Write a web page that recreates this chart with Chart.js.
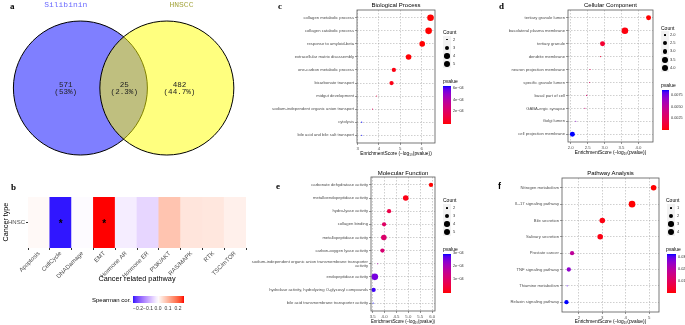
<!DOCTYPE html>
<html><head><meta charset="utf-8">
<script src="https://cdn.jsdelivr.net/npm/chart.js@4.4.1/dist/chart.umd.min.js"></script>
<style>
html,body{margin:0;padding:0;background:#fff;}
body{width:685px;height:325px;position:relative;overflow:hidden;font-family:Arial,"Liberation Sans",sans-serif;}
canvas{position:absolute;}
.t{position:absolute;white-space:nowrap;line-height:1;}
.k{position:absolute;}
</style></head><body>
<script>
// ================= DATA =================
// a: Venn
const vennSetNames = ['Silibinin', 'HNSCC'];
const vennRegionCounts = [571, 25, 482];          // Silibinin only, overlap, HNSCC only
const vennRegionPercents = ['53%', '2.3%', '44.7%'];

// b: heatmap (Spearman correlation with cancer related pathways)
const cancerTypes = ['HNSC'];
const pathways = ['Apoptosis','CellCycle','DNADamage','EMT','Hormone AR','Hormone ER','PI3K/AKT','RAS/MAPK','RTK','TSC/mTOR'];
const spearmanCor = [0.008, -0.25, -0.004, 0.26, -0.02, -0.045, 0.08, 0.035, 0.033, 0.02];
const spearmanSig = ['', '*', '', '*', '', '', '', '', '', ''];
const spearmanTicks = [-0.2, -0.1, 0.0, 0.1, 0.2];
const spearmanTickLabels = ['\u22120.2', '\u22120.1', '0.0', '0.1', '0.2'];

// c: Biological Process
const bpTerms = ['collagen metabolic process','collagen catabolic process','response to amyloid-beta','extracellular matrix disassembly','one-carbon metabolic process','bicarbonate transport','midgut development','sodium-independent organic anion transport','cytolysis','bile acid and bile salt transport'];
const bpScore = [6.42, 6.33, 6.03, 5.39, 4.70, 4.59, 3.89, 3.70, 3.19, 3.19];
const bpCount = [5, 5, 4, 4, 3, 3, 2, 2, 2, 2];
const bpPvalue = [3.8e-7, 4.7e-7, 9.3e-7, 4.1e-6, 2.0e-5, 2.6e-5, 1.3e-4, 2.0e-4, 6.5e-4, 6.5e-4];
const bpScoreTicks = [3, 4, 5, 6];
const bpScoreTickLabels = ['3', '4', '5', '6'];
const bpCountTicks = [2, 3, 4, 5];
const bpCountTickLabels = ['2', '3', '4', '5'];
const bpPTicks = [2e-4, 4e-4, 6e-4];
const bpPTickLabels = ['2e\u221204', '4e\u221204', '6e\u221204'];

// d: Cellular Component
const ccTerms = ['tertiary granule lumen','basolateral plasma membrane','tertiary granule','dendrite membrane','neuron projection membrane','specific granule lumen','basal part of cell','GABA-ergic synapse','Golgi lumen','cell projection membrane'];
const ccScore = [4.30, 3.60, 2.94, 2.88, 2.57, 2.56, 2.47, 2.42, 2.15, 2.05];
const ccCount = [3, 4, 3, 2, 2, 2, 2, 2, 2, 3];
const ccPvalue = [5.0e-5, 2.5e-4, 1.15e-3, 1.3e-3, 2.7e-3, 2.75e-3, 3.4e-3, 3.8e-3, 7.1e-3, 8.9e-3];
const ccScoreTicks = [2.0, 2.5, 3.0, 3.5, 4.0];
const ccScoreTickLabels = ['2.0', '2.5', '3.0', '3.5', '4.0'];
const ccCountTicks = [2.0, 2.5, 3.0, 3.5, 4.0];
const ccCountTickLabels = ['2.0', '2.5', '3.0', '3.5', '4.0'];
const ccPTicks = [0.0025, 0.0050, 0.0075];
const ccPTickLabels = ['0.0025', '0.0050', '0.0075'];

// e: Molecular Function
const mfTerms = ['carbonate dehydratase activity','metalloendopeptidase activity','hydro-lyase activity','collagen binding','metallopeptidase activity','carbon-oxygen lyase activity','sodium-independent organic anion transmembrane transporter activity','endopeptidase activity','hydrolase activity, hydrolyzing O-glycosyl compounds','bile acid transmembrane transporter activity'];
const mfScore = [5.95, 4.89, 4.19, 3.98, 3.97, 3.91, 3.71, 3.59, 3.54, 3.52];
const mfCount = [3, 4, 3, 3, 4, 3, 2, 5, 3, 2];
const mfPvalue = [1.1e-6, 1.3e-5, 6.5e-5, 1.0e-4, 1.1e-4, 1.2e-4, 1.95e-4, 2.6e-4, 2.9e-4, 3.0e-4];
const mfScoreTicks = [3.5, 4.0, 4.5, 5.0, 5.5, 6.0];
const mfScoreTickLabels = ['3.5', '4.0', '4.5', '5.0', '5.5', '6.0'];
const mfCountTicks = [2, 3, 4, 5];
const mfCountTickLabels = ['2', '3', '4', '5'];
const mfPTicks = [1e-4, 2e-4, 3e-4];
const mfPTickLabels = ['1e\u221204', '2e\u221204', '3e\u221204'];

// f: Pathway Analysis (KEGG)
const kgTerms = ['Nitrogen metabolism','IL-17 signaling pathway','Bile secretion','Salivary secretion','Prostate cancer','TNF signaling pathway','Thiamine metabolism','Relaxin signaling pathway'];
const kgScore = [5.19, 4.27, 3.00, 2.91, 1.71, 1.57, 1.50, 1.47];
const kgCount = [3, 4, 3, 3, 2, 2, 1, 2];
const kgPvalue = [6.5e-6, 5.4e-5, 1.0e-3, 1.2e-3, 0.0195, 0.0269, 0.0316, 0.0339];
const kgScoreTicks = [2, 3, 4, 5];
const kgScoreTickLabels = ['2', '3', '4', '5'];
const kgCountTicks = [1, 2, 3, 4];
const kgCountTickLabels = ['1', '2', '3', '4'];
const kgPTicks = [0.01, 0.02, 0.03];
const kgPTickLabels = ['0.01', '0.02', '0.03'];

// ================= HELPERS =================
const SANS = 'Arial, "Liberation Sans", sans-serif';
const MONO = '"Liberation Mono", "DejaVu Sans Mono", monospace';
const SERIF = '"Liberation Serif", "DejaVu Serif", serif';

function lin(c){c/=255;return c<=0.04045?c/12.92:Math.pow((c+0.055)/1.055,2.4);}
function unlin(c){c=c<=0.0031308?12.92*c:1.055*Math.pow(c,1/2.4)-0.055;return Math.round(Math.max(0,Math.min(1,c))*255);}
function rgbToLab(rgb){
  const R=lin(rgb[0]),G=lin(rgb[1]),B=lin(rgb[2]);
  const X=(0.4124*R+0.3576*G+0.1805*B)/0.95047, Y=(0.2126*R+0.7152*G+0.0722*B), Z=(0.0193*R+0.1192*G+0.9505*B)/1.08883;
  const f=t=>t>216/24389?Math.cbrt(t):(24389/27*t+16)/116;
  const fx=f(X),fy=f(Y),fz=f(Z);
  return [116*fy-16,500*(fx-fy),200*(fy-fz)];
}
function labToRgb(lab){
  const fy=(lab[0]+16)/116, fx=fy+lab[1]/500, fz=fy-lab[2]/200;
  const fi=t=>{const t3=t*t*t;return t3>216/24389?t3:(116*t-16)/(24389/27);};
  const X=0.95047*fi(fx),Y=fi(fy),Z=1.08883*fi(fz);
  return [unlin(3.2406*X-1.5372*Y-0.4986*Z),unlin(-0.9689*X+1.8758*Y+0.0415*Z),unlin(0.0557*X-0.2040*Y+1.0570*Z)];
}
function mixLab(c1,c2,t){const a=rgbToLab(c1),b=rgbToLab(c2);return labToRgb([a[0]+(b[0]-a[0])*t,a[1]+(b[1]-a[1])*t,a[2]+(b[2]-a[2])*t]);}
const RED=[255,0,0],BLUE=[0,0,255],WHITE=[255,255,255];
const rgbStr=c=>`rgb(${c[0]},${c[1]},${c[2]})`;
function pColor(p,pmin,pmax){return rgbStr(mixLab(RED,BLUE,(p-pmin)/(pmax-pmin)));}
function divColor(v,maxAbs){const t=v/(2*maxAbs)+0.5;return t<0.5?rgbStr(mixLab(BLUE,WHITE,t/0.5)):rgbStr(mixLab(WHITE,RED,(t-0.5)/0.5));}

function makeCanvas(b){const c=document.createElement('canvas');c.width=b.w;c.height=b.h;c.style.left=b.left+'px';c.style.top=b.top+'px';c.style.width=b.w+'px';c.style.height=b.h+'px';document.body.appendChild(c);return c;}
function txt(s,x,y,o={}){
  const d=document.createElement('div');d.className='t';d.textContent=s;
  d.style.left=x+'px';d.style.top=y+'px';
  d.style.fontSize=(o.size||5)+'px';d.style.fontFamily=o.family||SANS;d.style.color=o.color||'#000';
  if(o.bold)d.style.fontWeight='bold';
  let tr=o.center?'translate(-50%,-50%)':(o.right?'translate(-100%,-50%)':'translateY(-50%)');
  if(o.rotate)tr+=` rotate(${o.rotate}deg)`;
  d.style.transform=tr;document.body.appendChild(d);return d;
}
function wrapLabel(s,w){if(s.length<=w)return s;const words=s.split(' ');const lines=[];let cur='';words.forEach(wd=>{if((cur+' '+wd).trim().length>w){lines.push(cur);cur=wd;}else cur=(cur+' '+wd).trim();});lines.push(cur);return lines;}

const framePlugin={id:'frame',afterDraw(ch){const a=ch.chartArea,ctx=ch.ctx;ctx.save();ctx.strokeStyle='#595959';ctx.lineWidth=0.8;ctx.strokeRect(a.left,a.top,a.right-a.left,a.bottom-a.top);ctx.restore();}};

// ================= PANEL a : VENN =================
(function(){
  const R=67; // circle radius in px (also the unit of the data scale)
  // bubble charts reserve the largest radius as padding on every side, so the canvas is enlarged by R
  const area={w:265,h:180};
  const box={left:-R,top:-R,w:area.w+2*R,h:area.h+2*R};
  const cv=makeCanvas(box);
  const centerDist=1.3;
  const regionX=[-0.22, centerDist/2+0.01, 1.49];
  const setColors=['rgba(0,0,255,0.5)','rgba(255,255,0,0.5)'];
  const titleColors=['#6b6bff','#a6a640'];
  const vennText={id:'vennText',afterDatasetsDraw(ch){
    const ctx=ch.ctx,xs=ch.scales.x,ys=ch.scales.y;ctx.save();
    ctx.textAlign='center';ctx.textBaseline='middle';
    ctx.font='7.6px '+MONO;ctx.fillStyle='#222';
    vennRegionCounts.forEach((c,i)=>{
      ctx.fillText(String(c),xs.getPixelForValue(regionX[i]),ys.getPixelForValue(0.045));
      ctx.fillText('('+vennRegionPercents[i]+')',xs.getPixelForValue(regionX[i]),ys.getPixelForValue(-0.06));
    });
    ctx.font='8px '+MONO;
    vennSetNames.forEach((n,i)=>{ctx.fillStyle=titleColors[i];ctx.fillText(n,xs.getPixelForValue(i===0?-0.22:1.52),ys.getPixelForValue(1.255));});
    ctx.restore();}};
  new Chart(cv,{type:'bubble',
    // first set drawn underneath (higher order is drawn first)
    data:{datasets:vennSetNames.map((n,i)=>({label:n,order:vennSetNames.length-i,data:[{x:i*centerDist,y:0,r:R}],backgroundColor:setColors[i],borderColor:'#000',borderWidth:1,hoverRadius:0,clip:false}))},
    options:{responsive:false,animation:false,devicePixelRatio:1,events:[],layout:{padding:0},
      plugins:{legend:{display:false},tooltip:{enabled:false}},
      scales:{x:{type:'linear',display:false,min:-80/R,max:(area.w-80)/R},y:{type:'linear',display:false,min:-(area.h-88)/R,max:88/R}}},
    plugins:[vennText]});
})();

// ================= PANEL b : HEATMAP =================
(function(){
  const box={left:0,top:183,w:260,h:142};
  const area={l:28,r:246,t:197,b:248};
  const xH=30;
  const cv=makeCanvas(box);
  const maxAbs=Math.max(...spearmanCor.map(Math.abs));
  const sigPlugin={id:'sig',afterDatasetsDraw(ch){const ctx=ch.ctx;ctx.save();ctx.fillStyle='#000';ctx.font='bold 10px '+SANS;ctx.textAlign='center';ctx.textBaseline='middle';
    ch.getDatasetMeta(0).data.forEach((el,i)=>{if(spearmanSig[i])ctx.fillText(spearmanSig[i],el.x,(el.y+el.base)/2+2);});ctx.restore();}};
  new Chart(cv,{type:'bar',
    data:{labels:pathways,datasets:cancerTypes.map((ct,r)=>({label:ct,data:pathways.map(()=>[r,r+1]),backgroundColor:spearmanCor.map(v=>divColor(v,maxAbs)),borderWidth:0,barPercentage:1,categoryPercentage:1}))},
    options:{responsive:false,animation:false,devicePixelRatio:1,events:[],
      layout:{padding:{top:area.t-box.top,right:box.left+box.w-area.r,bottom:box.top+box.h-area.b-xH,left:0}},
      plugins:{legend:{display:false},tooltip:{enabled:false}},
      scales:{
        x:{type:'category',afterFit:s=>{s.height=xH;},grid:{drawOnChartArea:false,tickLength:2,color:'#333'},border:{display:false},
           ticks:{font:{size:6,family:SANS},color:'#4d4d4d',minRotation:45,maxRotation:45,padding:0,autoSkip:false}},
        y:{type:'linear',min:0,max:cancerTypes.length,afterFit:s=>{s.width=area.l-box.left;},
           afterBuildTicks:s=>{s.ticks=cancerTypes.map((c,i)=>({value:i+0.5}));},
           grid:{drawOnChartArea:false,tickLength:2,color:'#333'},border:{display:false},
           ticks:{font:{size:6,family:SANS},color:'#4d4d4d',padding:1,callback:v=>cancerTypes[Math.floor(v)]}}}},
    plugins:[sigPlugin]});
  txt('Cancer type',6,222,{size:7.2,center:true,rotate:-90});
  txt('Cancer related pathway',137,279,{size:7.3,center:true});
  txt('Spearman cor.',131,300,{size:6,right:true});
  // colorbar
  const cb={x:133,y:296,w:51,h:7};
  const lo=Math.min(...spearmanCor),hi=Math.max(...spearmanCor);
  const stops=[];for(let i=0;i<=20;i++){const v=lo+(hi-lo)*i/20;stops.push(divColor(v,maxAbs)+' '+(i*5)+'%');}
  const bar=document.createElement('div');bar.className='k';Object.assign(bar.style,{left:cb.x+'px',top:cb.y+'px',width:cb.w+'px',height:cb.h+'px',background:`linear-gradient(to right, ${stops.join(',')})`});document.body.appendChild(bar);
  spearmanTicks.forEach((v,i)=>txt(spearmanTickLabels[i],cb.x+(v-lo)/(hi-lo)*cb.w,cb.y+cb.h+5,{size:5,center:true,color:'#333'}));
})();

// ================= PANELS c-f : BUBBLE =================
function bubblePanel(P){
  const g=P.geo, n=P.terms.length;
  const cv=makeCanvas(g.box);
  const cmin=Math.min(...P.count),cmax=Math.max(...P.count);
  const radius=c=>0.55*(1+5*Math.sqrt((c-cmin)/(cmax-cmin)));
  const pmin=Math.min(...P.pvalue),pmax=Math.max(...P.pvalue);
  new Chart(cv,{type:'bubble',
    data:{datasets:[{data:P.terms.map((t,i)=>({x:P.score[i],y:i,r:radius(P.count[i])})),backgroundColor:P.pvalue.map(p=>pColor(p,pmin,pmax)),borderWidth:0,hoverRadius:0}]},
    options:{responsive:false,animation:false,devicePixelRatio:1,events:[],
      layout:{padding:{top:g.area.t-g.box.top,right:g.box.left+g.box.w-g.area.r,bottom:g.box.top+g.box.h-g.area.b-g.xH,left:0}},
      plugins:{legend:{display:false},tooltip:{enabled:false}},
      scales:{
        x:{type:'linear',min:g.xMin,max:g.xMax,afterFit:s=>{s.height=g.xH;},
           afterBuildTicks:s=>{s.ticks=P.xTicks.map(v=>({value:v}));},
           ticks:{font:{size:4.3,family:SANS},color:'#4d4d4d',padding:1,maxRotation:0,autoSkip:false,callback:v=>P.xTickLabels[P.xTicks.indexOf(v)]},
           grid:{color:'#9e9e9e',lineWidth:0.5,tickLength:2,tickColor:'#333',tickBorderDash:[]},border:{display:false,dash:[1.5,1.5]},
           title:{display:true,text:'EnrichmentScore (\u2212log\u2081\u2080(pvalue))',font:{size:4.8,family:SANS},color:'#000',padding:0}},
        y:{type:'linear',reverse:true,min:-0.6,max:n-0.4,afterFit:s=>{s.width=g.area.l-g.box.left;},
           afterBuildTicks:s=>{s.ticks=P.terms.map((t,i)=>({value:i}));},
           ticks:{font:{size:4.2,family:SANS,lineHeight:1.05},color:'#4d4d4d',padding:1,autoSkip:false,callback:v=>wrapLabel(P.terms[v],60)},
           grid:{color:'#9e9e9e',lineWidth:0.5,tickLength:2,tickColor:'#333',tickBorderDash:[]},border:{display:false,dash:[1.5,1.5]}}}},
    plugins:[framePlugin]});
  txt(P.title,(g.area.l+g.area.r)/2,g.titleY,{size:6,center:true});
  // legend
  const L=P.leg;
  txt('Count',L.x,L.countY,{size:5});
  P.countTicks.forEach((c,i)=>{
    const cy=L.key0+i*L.step;
    const bg=document.createElement('div');bg.className='k';Object.assign(bg.style,{left:(L.keyX-4)+'px',top:(cy-4)+'px',width:'8px',height:'8px',background:'#f2f2f2'});document.body.appendChild(bg);
    const r=radius(c);
    const d=document.createElement('div');d.className='k';Object.assign(d.style,{left:(L.keyX-r)+'px',top:(cy-r)+'px',width:(2*r)+'px',height:(2*r)+'px',borderRadius:'50%',background:'#000'});document.body.appendChild(d);
    txt(P.countTickLabels[i],L.labelX,cy,{size:4,color:'#333'});
  });
  txt('pvalue',L.x,L.pY,{size:5});
  const stops=[];for(let i=0;i<=20;i++){stops.push(pColor(pmin+(pmax-pmin)*i/20,pmin,pmax)+' '+(i*5)+'%');}
  const bar=document.createElement('div');bar.className='k';Object.assign(bar.style,{left:L.barX+'px',top:L.barTop+'px',width:L.barW+'px',height:(L.barBottom-L.barTop)+'px',background:`linear-gradient(to top, ${stops.join(',')})`});document.body.appendChild(bar);
  P.pTicks.forEach((p,i)=>txt(P.pTickLabels[i],L.barX+L.barW+2,L.barBottom-(p-pmin)/(pmax-pmin)*(L.barBottom-L.barTop),{size:3.8,color:'#333'}));
}

bubblePanel({title:'Biological Process',terms:bpTerms,score:bpScore,count:bpCount,pvalue:bpPvalue,
  xTicks:bpScoreTicks,xTickLabels:bpScoreTickLabels,countTicks:bpCountTicks,countTickLabels:bpCountTickLabels,pTicks:bpPTicks,pTickLabels:bpPTickLabels,
  geo:{box:{left:265,top:0,w:175,h:160},area:{l:357,r:435,t:10,b:143},xH:14,xMin:2.97,xMax:6.63,titleY:5},
  leg:{x:443,countY:32,key0:39.5,step:8.2,keyX:447,labelX:453,pY:81,barX:443,barW:8,barTop:86,barBottom:124}});

bubblePanel({title:'Cellular Component',terms:ccTerms,score:ccScore,count:ccCount,pvalue:ccPvalue,
  xTicks:ccScoreTicks,xTickLabels:ccScoreTickLabels,countTicks:ccCountTicks,countTickLabels:ccCountTickLabels,pTicks:ccPTicks,pTickLabels:ccPTickLabels,
  geo:{box:{left:500,top:0,w:160,h:160},area:{l:568,r:653,t:10,b:142},xH:14,xMin:1.92,xMax:4.43,titleY:5},
  leg:{x:661,countY:28,key0:35,step:8.2,keyX:665,labelX:670,pY:85,barX:662,barW:7,barTop:90,barBottom:130}});

bubblePanel({title:'Molecular Function',terms:mfTerms,score:mfScore,count:mfCount,pvalue:mfPvalue,
  xTicks:mfScoreTicks,xTickLabels:mfScoreTickLabels,countTicks:mfCountTicks,countTickLabels:mfCountTickLabels,pTicks:mfPTicks,pTickLabels:mfPTickLabels,
  geo:{box:{left:245,top:162,w:195,h:163},area:{l:371,r:435,t:177,b:311},xH:14,xMin:3.43,xMax:6.12,titleY:173},
  leg:{x:443,countY:200,key0:208,step:8,keyX:447,labelX:453,pY:249,barX:443,barW:8,barTop:254,barBottom:293}});

bubblePanel({title:'Pathway Analysis',terms:kgTerms,score:kgScore,count:kgCount,pvalue:kgPvalue,
  xTicks:kgScoreTicks,xTickLabels:kgScoreTickLabels,countTicks:kgCountTicks,countTickLabels:kgCountTickLabels,pTicks:kgPTicks,pTickLabels:kgPTickLabels,
  geo:{box:{left:480,top:162,w:185,h:163},area:{l:562,r:659,t:178,b:312},xH:13,xMin:1.28,xMax:5.42,titleY:173},
  leg:{x:666,countY:200,key0:208,step:8,keyX:671,labelX:677,pY:249,barX:667,barW:9,barTop:254,barBottom:293}});

// panel letters
txt('a',10,6,{size:9,bold:true,family:SERIF});
txt('b',11,187,{size:9,bold:true,family:SERIF});
txt('c',278,6,{size:9,bold:true,family:SERIF});
txt('d',499,6,{size:9,bold:true,family:SERIF});
txt('e',276,186,{size:9,bold:true,family:SERIF});
txt('f',498,186,{size:9,bold:true,family:SANS});
</script>
</body></html>
